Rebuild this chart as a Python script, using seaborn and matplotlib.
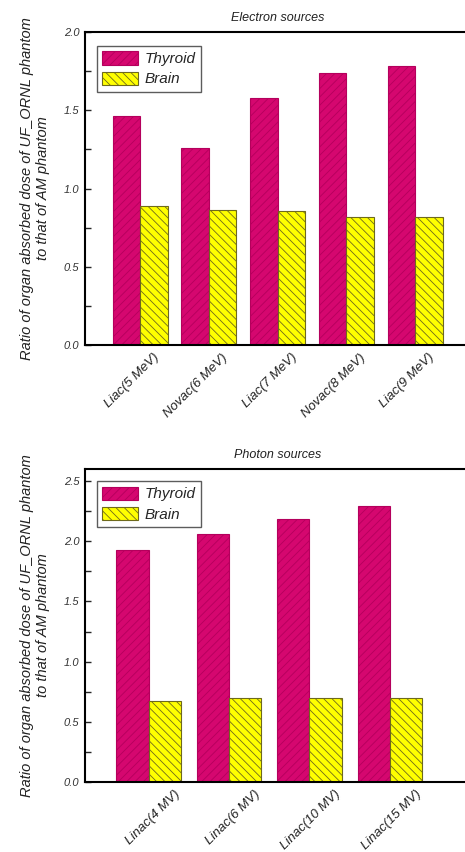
import numpy as np
import pandas as pd
import matplotlib
matplotlib.use("Agg")
import matplotlib.pyplot as plt
import matplotlib.transforms as mtransforms
import seaborn as sns

# datos
electron_src = ["Liac(5 MeV)", "Novac(6 MeV)", "Liac(7 MeV)", "Novac(8 MeV)", "Liac(9 MeV)"]
electron_thyroid = [1.46, 1.26, 1.58, 1.74, 1.78]
electron_brain = [0.89, 0.86, 0.855, 0.815, 0.82]

photon_src = ["Linac(4 MV)", "Linac(6 MV)", "Linac(10 MV)", "Linac(15 MV)"]
photon_thyroid = [1.93, 2.06, 2.185, 2.29]
photon_brain = [0.675, 0.70, 0.70, 0.70]

organs = ["Thyroid", "Brain"]
colores = {"Thyroid": "#d5076f", "Brain": "#ffff00"}
hatch_col = {"Thyroid": "#b4005c", "Brain": "#6e6a1c"}
hatches = {"Thyroid": "////", "Brain": "\\\\\\\\"}

ylabel = "Ratio of organ absorbed dose of UF_ORNL phantom\nto that of AM phantom"

sns.set_theme(style="white")
plt.rcParams["font.family"] = ["Liberation Sans", "DejaVu Sans"]
plt.rcParams["hatch.linewidth"] = 0.6


def long_df(src, thy, bra):
    return pd.DataFrame({
        "Source": src * 2,
        "Organ": ["Thyroid"] * len(src) + ["Brain"] * len(src),
        "Ratio": thy + bra,
    })


def panel(fig, ax, df, titulo, ymax, yticks, xlim, leg_y, dx):
    sns.barplot(data=df, x="Source", y="Ratio", hue="Organ", hue_order=organs,
                palette=colores, width=0.8, saturation=1, legend=False, ax=ax)
    for cont, org in zip(ax.containers, organs):
        for p in cont.patches:
            p.set_hatch(hatches[org])
            p.set_edgecolor(hatch_col[org])
            p.set_linewidth(0.8)
            if hasattr(p, "set_hatchcolor"):
                p.set_hatchcolor(hatch_col[org])
                p.set_edgecolor("#3a3a3a")
    ax.set_ylim(0, ymax)
    ax.set_xlim(*xlim)
    ax.set_yticks(yticks)
    ax.set_yticklabels([f"{v:.1f}" for v in yticks], fontsize=8, style="italic", color="#333333")
    ax.set_yticks(np.arange(0.25, ymax, 0.5), minor=True)
    ax.tick_params(axis="y", which="both", direction="in", length=4, width=1, left=True, pad=4)
    ax.tick_params(axis="x", direction="in", length=4, width=1, bottom=True, pad=3)
    # desplazar las etiquetas rotadas para que terminen a la derecha del tick
    offset = mtransforms.ScaledTranslation(dx, -0.02, fig.dpi_scale_trans)
    for lab in ax.get_xticklabels():
        lab.set_rotation(45)
        lab.set_ha("right")
        lab.set_rotation_mode("anchor")
        lab.set_fontsize(9.5)
        lab.set_style("italic")
        lab.set_color("#222222")
        lab.set_transform(lab.get_transform() + offset)
    ax.set_xlabel("")
    ax.set_ylabel(ylabel, fontsize=10.5, style="italic", color="#222222", linespacing=1.15)
    ax.yaxis.set_label_coords(-0.091, 0.5)
    ax.set_title(titulo, fontsize=9, style="italic", color="#222222", pad=8)
    for s in ax.spines.values():
        s.set_color("black")
        s.set_linewidth(1.5)
    ax.legend(handles=list(ax.containers), labels=organs, loc="upper left",
              bbox_to_anchor=(0.031, leg_y), borderaxespad=0,
              prop={"style": "italic", "size": 11},
              frameon=True, fancybox=False, edgecolor="#333333", handlelength=2.35,
              handleheight=0.95, borderpad=0.35, labelspacing=0.35, handletextpad=0.4)


fig = plt.figure(figsize=(4.65, 8.52), dpi=100)
ax1 = fig.add_axes([0.183, 0.595, 0.828, 0.3675])
ax2 = fig.add_axes([0.183, 0.082, 0.828, 0.3675])

panel(fig, ax1, long_df(electron_src, electron_thyroid, electron_brain),
      "Electron sources", 2.0, [0.0, 0.5, 1.0, 1.5, 2.0], (-0.8, 4.8), 0.955, 0.13)
panel(fig, ax2, long_df(photon_src, photon_thyroid, photon_brain),
      "Photon sources", 2.6, [0.0, 0.5, 1.0, 1.5, 2.0, 2.5], (-0.79, 4.0), 0.961, 0.25)

fig.savefig("out.png", dpi=100)
